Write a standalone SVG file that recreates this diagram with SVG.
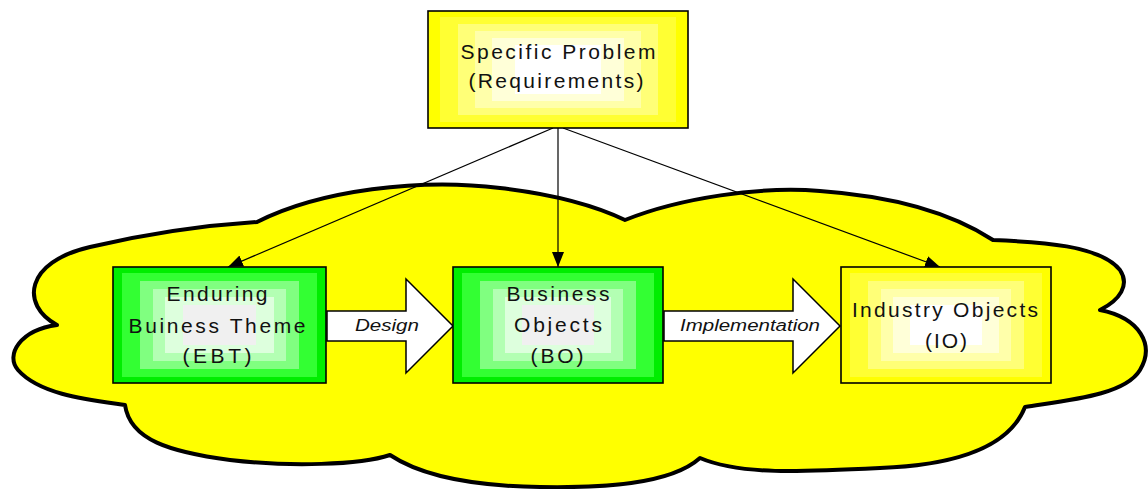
<svg xmlns="http://www.w3.org/2000/svg" width="1148" height="489" viewBox="0 0 1148 489">
<defs>
<style>
.t{font-family:"Liberation Sans",Arial,sans-serif;font-size:21px;fill:#111;text-anchor:middle}
.lbl{font-family:"Liberation Sans",Arial,sans-serif;font-size:16px;font-style:italic;fill:#111;text-anchor:middle}
.edge{fill:none;stroke:#000;stroke-width:1.2}
.frame{fill:none;stroke:#000;stroke-width:1.6}
.big{fill:#fff;stroke:#000;stroke-width:1.5;stroke-linejoin:miter}
.y0{fill:#ffff00}.y1{fill:#ffff33}.y2{fill:#ffff77}.y3{fill:#ffffaa}.y4{fill:#ffffd8}.y5{fill:#ffffff}
.g0{fill:#00ee00}.g1{fill:#33ff33}.g2{fill:#80ff80}.g3{fill:#b3ffb3}.g4{fill:#ddffdd}.g5{fill:#f0f0f0}
</style>
<marker id="ah" markerWidth="16" markerHeight="12" refX="15" refY="6" orient="auto" markerUnits="userSpaceOnUse">
<path d="M0,0 L15,6 L0,12 Z" fill="#000"/>
</marker>
</defs>

<g id="cloud">
<path d="M57,325 C20,305 25,262 90,247 C150,233 210,225 257,222 C320,190 420,178 500,188 C560,195 600,208 625,220 C680,198 760,186 820,191 C890,196 950,212 993,240 C1040,242 1100,245 1120,270 C1130,285 1120,300 1100,310 C1140,318 1155,345 1140,370 C1125,395 1070,400 1025,407 C1010,445 960,465 880,468 C800,472 740,475 700,458 C670,485 600,488 540,487 C470,486 420,475 390,455 C360,465 290,467 230,460 C170,452 130,440 125,405 C90,400 40,395 18,370 C5,355 20,330 57,325 Z" fill="#ffff00" stroke="#000" stroke-width="4" stroke-linejoin="round"/>
</g>

<g id="connectors">
<line class="edge" x1="553" y1="128" x2="228" y2="267" marker-end="url(#ah)"/>
<line class="edge" x1="558" y1="128" x2="558" y2="267" marker-end="url(#ah)"/>
<line class="edge" x1="563" y1="128" x2="940" y2="267" marker-end="url(#ah)"/>
<g id="design-arrow">
<path class="big" d="M327,311 L406,311 L406,279 L453,326 L406,373 L406,341 L327,341 Z"/>
<text class="lbl" x="387" y="331" textLength="64" lengthAdjust="spacingAndGlyphs">Design</text>
</g>
<g id="impl-arrow">
<path class="big" d="M664,311 L793,311 L793,279 L840,326 L793,373 L793,341 L664,341 Z"/>
<text class="lbl" x="750" y="331" textLength="140" lengthAdjust="spacingAndGlyphs">Implementation</text>
</g>
</g>

<g id="problem">
<rect class="y0" x="428" y="11" width="260" height="117"/>
<rect class="y1" x="440" y="17" width="236" height="105"/>
<rect class="y2" x="458" y="24" width="200" height="91"/>
<rect class="y3" x="475" y="31" width="166" height="77"/>
<rect class="y4" x="492" y="38" width="132" height="63"/>
<rect class="y5" x="515" y="45" width="86" height="49"/>
<rect class="frame" x="428" y="11" width="260" height="117"/>
<text class="t" x="558" y="59" textLength="195" lengthAdjust="spacing">Specific Problem</text>
<text class="t" x="556" y="88" textLength="175" lengthAdjust="spacing">(Requirements)</text>
</g>

<g id="ebt">
<rect class="g0" x="113" y="267" width="213" height="116"/>
<rect class="g1" x="122" y="273" width="195" height="104"/>
<rect class="g2" x="140" y="281" width="159" height="88"/>
<rect class="g3" x="153" y="289" width="133" height="72"/>
<rect class="g4" x="165" y="297" width="109" height="56"/>
<rect class="g5" x="183" y="305" width="73" height="40"/>
<rect class="frame" x="113" y="267" width="213" height="116"/>
<text class="t" x="217" y="301" textLength="101" lengthAdjust="spacing">Enduring</text>
<text class="t" x="217" y="333" textLength="177" lengthAdjust="spacing">Buiness Theme</text>
<text class="t" x="217" y="363" textLength="69" lengthAdjust="spacing">(EBT)</text>
</g>

<g id="bo">
<rect class="g0" x="453" y="267" width="210" height="116"/>
<rect class="g1" x="462" y="273" width="192" height="104"/>
<rect class="g2" x="480" y="281" width="156" height="88"/>
<rect class="g3" x="493" y="289" width="130" height="72"/>
<rect class="g4" x="505" y="297" width="106" height="56"/>
<rect class="g5" x="522" y="305" width="72" height="40"/>
<rect class="frame" x="453" y="267" width="210" height="116"/>
<text class="t" x="558" y="301" textLength="103" lengthAdjust="spacing">Business</text>
<text class="t" x="558" y="332" textLength="88" lengthAdjust="spacing">Objects</text>
<text class="t" x="557" y="363" textLength="53" lengthAdjust="spacing">(BO)</text>
</g>

<g id="io">
<rect class="y0" x="841" y="267" width="210" height="116"/>
<rect class="y1" x="850" y="273" width="192" height="104"/>
<rect class="y2" x="868" y="281" width="156" height="88"/>
<rect class="y3" x="881" y="289" width="130" height="72"/>
<rect class="y4" x="893" y="297" width="106" height="56"/>
<rect class="y5" x="910" y="305" width="72" height="40"/>
<rect class="frame" x="841" y="267" width="210" height="116"/>
<text class="t" x="945" y="317" textLength="186" lengthAdjust="spacing">Industry Objects</text>
<text class="t" x="946" y="348" textLength="42" lengthAdjust="spacing">(IO)</text>
</g>
</svg>
